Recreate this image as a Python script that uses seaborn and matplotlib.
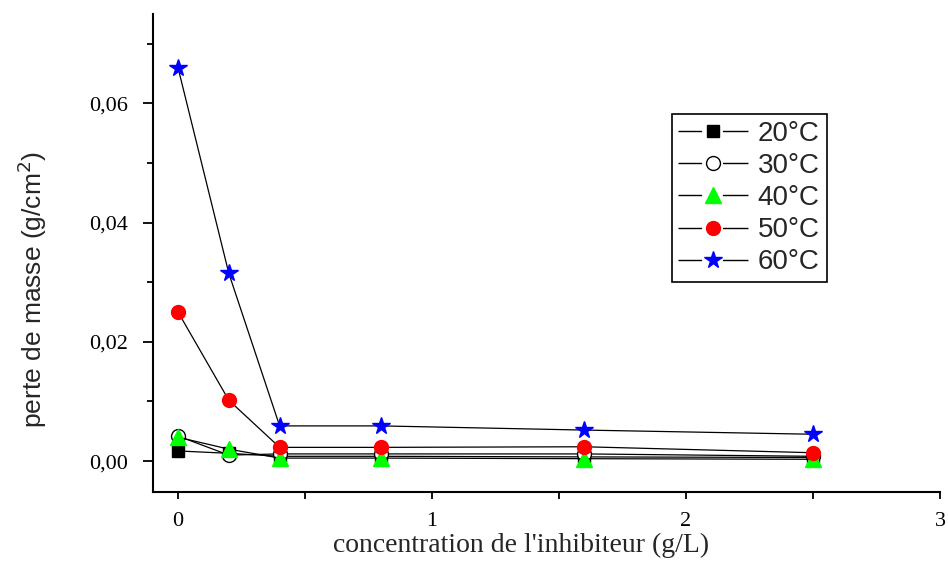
import matplotlib
matplotlib.use("Agg")
import matplotlib.pyplot as plt
import seaborn as sns
import pandas as pd
from matplotlib.lines import Line2D
from matplotlib.legend_handler import HandlerTuple
from matplotlib.ticker import MultipleLocator, FuncFormatter

sns.set_style("ticks")

conc = [0, 0.2, 0.4, 0.8, 1.6, 2.5]
labels = ["20°C", "30°C", "40°C", "50°C", "60°C"]
t20 = [0.0017, 0.0013, 0.0008, 0.0008, 0.0007, 0.0006]
t30 = [0.0042, 0.0010, 0.0012, 0.0012, 0.0012, 0.0008]
t40 = [0.0040, 0.0020, 0.0005, 0.0005, 0.0004, 0.0003]
t50 = [0.0250, 0.0102, 0.0023, 0.0023, 0.0024, 0.0014]
t60 = [0.0660, 0.0315, 0.0059, 0.0059, 0.0052, 0.0045]

series = [t20, t30, t40, t50, t60]
styles = [
    dict(marker="s", markerfacecolor="black", markeredgecolor="black", markersize=8),
    dict(marker="o", markerfacecolor="white", markeredgecolor="black", markersize=10),
    dict(marker="^", markerfacecolor="#00ff00", markeredgecolor="#00ff00", markersize=11),
    dict(marker="o", markerfacecolor="#ff0000", markeredgecolor="#ff0000", markersize=10),
    dict(marker="*", markerfacecolor="#0000ff", markeredgecolor="#0000ff", markersize=13),
]

fig = plt.figure(figsize=(9.48, 5.63), dpi=100)
ax = fig.add_axes([0.161, 0.126, 0.8306, 0.849])

handles = []
for lab, vals, st in zip(labels, series, styles):
    df = pd.DataFrame({"x": conc, "y": vals})
    sns.lineplot(data=df, x="x", y="y", ax=ax, color="black", linewidth=0.9,
                 markeredgewidth=1.0, legend=False, **st)
    ln = Line2D([], [], color="black", linewidth=1.0, dashes=(17, 15, 19, 100))
    mk = Line2D([], [], linestyle="none", markeredgewidth=1.0, **st)
    handles.append((ln, mk))

ax.set_xlim(-0.1, 3.0)
ax.set_ylim(-0.0052, 0.075)
ax.xaxis.set_major_locator(MultipleLocator(1))
ax.xaxis.set_minor_locator(MultipleLocator(0.5))
ax.yaxis.set_major_locator(MultipleLocator(0.02))
ax.yaxis.set_minor_locator(MultipleLocator(0.01))
ax.yaxis.set_major_formatter(FuncFormatter(lambda v, p: f"{v:.2f}".replace(".", ",")))
ax.xaxis.set_major_formatter(FuncFormatter(lambda v, p: f"{int(round(v))}"))

for s in ["top", "right"]:
    ax.spines[s].set_visible(False)
for s in ["left", "bottom"]:
    ax.spines[s].set_linewidth(1.5)
    ax.spines[s].set_color("black")

ax.tick_params(axis="x", which="major", direction="out", length=5, width=1.3, colors="black", pad=9)
ax.tick_params(axis="x", which="minor", direction="out", length=5, width=1.3, colors="black")
ax.tick_params(axis="y", which="major", direction="out", length=7.5, width=1.3, colors="black", pad=10)
ax.tick_params(axis="y", which="minor", direction="out", length=4, width=1.3, colors="black")
for t in ax.get_xticklabels() + ax.get_yticklabels():
    t.set_fontfamily("Liberation Serif")
    t.set_fontsize(16)

ax.set_xlabel("concentration de l'inhibiteur (g/L)", fontfamily="Liberation Serif", fontsize=20)
ax.xaxis.set_label_coords(0.468, -0.086)
ax.set_ylabel("perte de masse (g/cm$^2$)", fontfamily="Liberation Sans", fontsize=19)
ax.yaxis.set_label_coords(-0.131, 0.423)

leg = ax.legend(handles, labels, handler_map={tuple: HandlerTuple(ndivide=1)},
                loc="upper left", bbox_to_anchor=(0.659, 0.791), frameon=True, fancybox=False,
                edgecolor="black", prop={"family": "Liberation Sans", "size": 20},
                handlelength=2.5, handletextpad=0.35, borderpad=0.25, labelspacing=0.22,
                borderaxespad=0, framealpha=1)
leg.get_frame().set_linewidth(1.2)

fig.savefig("out.png", dpi=100, facecolor="white")
